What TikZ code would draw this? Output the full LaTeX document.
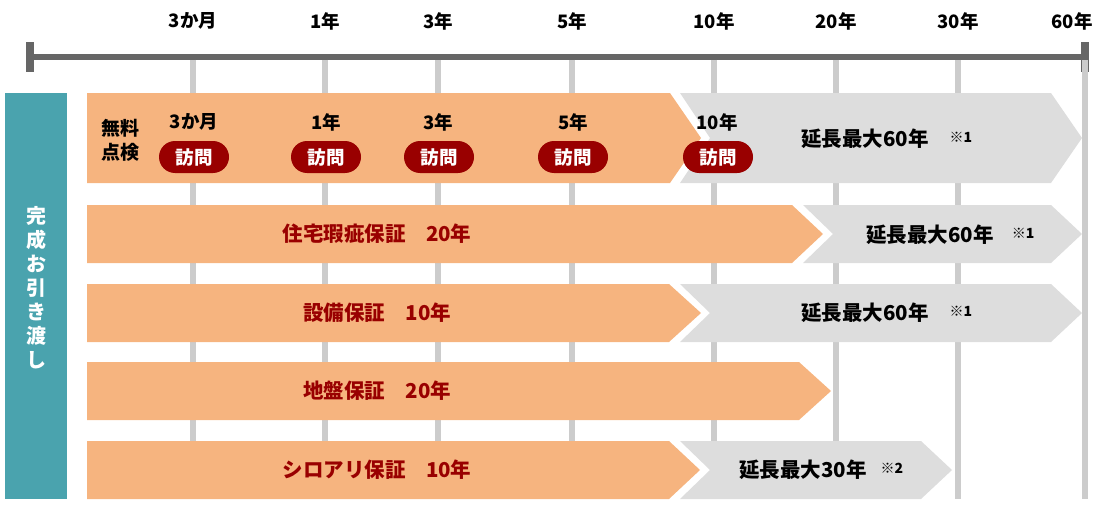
\documentclass[tikz,border=0pt]{standalone}
\usepackage{fontspec}
\setmainfont{Noto Sans CJK JP}
\definecolor{peach}{HTML}{F6B47F}
\definecolor{extgray}{HTML}{DDDDDD}
\definecolor{handover}{HTML}{4AA3AE}
\definecolor{visitred}{HTML}{990000}
\definecolor{ticklines}{HTML}{CCCCCC}
\definecolor{axisline}{HTML}{666666}
\tikzset{
  yearlabel/.style={font=\bfseries\fontsize{18.5}{18.5}\selectfont, inner sep=0pt},
  visit/.style={fill=visitred, text=white, rounded corners=16pt, minimum width=70pt,
    minimum height=32pt, inner sep=0pt, font=\bfseries\fontsize{18.5}{18.5}\selectfont},
  warranty/.style={text=visitred, font=\bfseries\fontsize{20.5}{20.5}\selectfont, inner sep=0pt},
  extension/.style={font=\bfseries\fontsize{20.5}{20.5}\selectfont, inner sep=0pt},
  note/.style={font=\bfseries\fontsize{14}{14}\selectfont, inner sep=0pt}
}
\begin{document}
\begin{tikzpicture}[x=1pt,y=-1pt]
  \useasboundingbox (0,0) rectangle (1100,511);

  % time axis
  \coordinate (t0) at (30,57);
  \coordinate (tend) at (1085,57);
  \draw[axisline, line width=6pt] (t0) -- (tend);
  \fill[axisline] (26,42) rectangle (34,72);
  \fill[axisline] (1081,42) rectangle (1089,72);

  \foreach \x/\lx/\t/\n in {193/193/3か月/m3, 325/325/1年/y1, 438/438/3年/y3, 572/572/5年/y5,
      714/714/10年/y10, 836/836/20年/y20, 958/958/30年/y30, 1085/1072/60年/y60} {
    \coordinate (\n-top) at (\x,60);
    \coordinate (\n-bot) at (\x,499);
    \draw[ticklines, line width=6pt] (\n-top) -- (\n-bot);
    \node[yearlabel] (lab-\n) at (\lx,21) {\t};
  }

  % hand-over column
  \fill[handover] (5,93) rectangle (67,499);
  \node[text=white, align=center, inner sep=0pt,
    font=\bfseries\fontsize{20}{24}\selectfont] (handover) at (36,288)
    {完\\成\\お\\引\\き\\渡\\し};

  % rows
  \fill[peach] (87,93) -- (670,93) -- (701,138) -- (670,183) -- (87,183) -- cycle;
  \fill[extgray] (680,93) -- (1051,93) -- (1082,138) -- (1051,183) -- (680,183) -- (710,138) -- cycle;

  \fill[peach] (87,205) -- (792,205) -- (823,234) -- (792,263) -- (87,263) -- cycle;
  \fill[extgray] (803,205) -- (1051,205) -- (1082,234) -- (1051,263) -- (803,263) -- (833,234) -- cycle;

  \fill[peach] (87,284) -- (669,284) -- (701,313) -- (669,342) -- (87,342) -- cycle;
  \fill[extgray] (680,284) -- (1051,284) -- (1082,313) -- (1051,342) -- (680,342) -- (710,313) -- cycle;

  \fill[peach] (87,362) -- (799,362) -- (831,391) -- (799,420) -- (87,420) -- cycle;

  \fill[peach] (87,441) -- (669,441) -- (700,470) -- (669,499) -- (87,499) -- cycle;
  \fill[extgray] (680,441) -- (921,441) -- (952,470) -- (921,499) -- (680,499) -- (710,470) -- cycle;

  % free inspections
  \node[align=center, inner sep=0pt, font=\bfseries\fontsize{19}{24}\selectfont] (check) at (120.5,140) {無料\\点検};
  \begin{scope}[every node/.style={yearlabel}]
    \node (c-m3) at (194,122) {3か月};
    \node (c-y1) at (326,122) {1年};
    \node (c-y3) at (438,122) {3年};
    \node (c-y5) at (573,122) {5年};
    \node (c-y10) at (717,122) {10年};
  \end{scope}
  \begin{scope}[every node/.style={visit}]
    \node (v-m3) at (194,157) {訪問};
    \node (v-y1) at (326,157) {訪問};
    \node (v-y3) at (439,157) {訪問};
    \node (v-y5) at (573,157) {訪問};
    \node (v-y10) at (718,157) {訪問};
  \end{scope}

  % warranties
  \node[warranty] (house) at (377,234) {住宅瑕疵保証　20年};
  \node[warranty] (equip) at (377,313) {設備保証　10年};
  \node[warranty] (ground) at (377,391) {地盤保証　20年};
  \node[warranty] (termite) at (377,470) {シロアリ保証　10年};

  % extensions
  \node[extension] (ext1) at (865,139) {延長最大60年};
  \node[note] (n1) at (961,137) {※1};
  \node[extension] (ext2) at (930,235) {延長最大60年};
  \node[note] (n2) at (1023,233) {※1};
  \node[extension] (ext3) at (865,313) {延長最大60年};
  \node[note] (n3) at (961,311) {※1};
  \node[extension] (ext5) at (803,470) {延長最大30年};
  \node[note] (n5) at (892,468) {※2};
\end{tikzpicture}
\end{document}
